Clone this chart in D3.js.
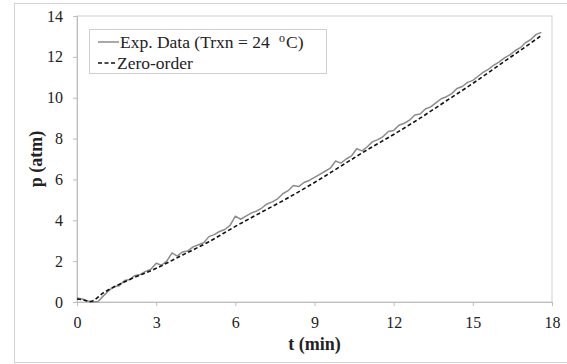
<!DOCTYPE html>
<html>
<head>
<meta charset="utf-8">
<script src="https://cdn.jsdelivr.net/npm/d3@7/dist/d3.min.js"></script>
<style>
  body { margin: 0; background: #fff; }
  text { font-family: "Liberation Serif", "Times New Roman", serif; fill: #222; }
</style>
</head>
<body>
<svg id="chart" width="567" height="364"></svg>
<script>
// experimental pressure trace (t in min, p in atm)
const expT = [0, 0.2, 0.4, 0.6, 0.8, 1.0, 1.2, 1.4, 1.6, 1.8, 2.0, 2.2, 2.4, 2.6, 2.8, 3.0, 3.2, 3.4, 3.6, 3.8,
  4.0, 4.2, 4.4, 4.6, 4.8, 5.0, 5.2, 5.4, 5.6, 5.8, 6.0, 6.2, 6.4, 6.6, 6.8, 7.0, 7.2, 7.4, 7.6, 7.8,
  8.0, 8.2, 8.4, 8.6, 8.8, 9.0, 9.2, 9.4, 9.6, 9.8, 10.0, 10.2, 10.4, 10.6, 10.8, 11.0, 11.2, 11.4, 11.6, 11.8,
  12.0, 12.2, 12.4, 12.6, 12.8, 13.0, 13.2, 13.4, 13.6, 13.8, 14.0, 14.2, 14.4, 14.6, 14.8, 15.0, 15.2, 15.4, 15.6, 15.8,
  16.0, 16.2, 16.4, 16.6, 16.8, 17.0, 17.2, 17.4, 17.6];
const expP = [0.20, 0.15, 0.05, 0.00, 0.02, 0.30, 0.55, 0.75, 0.80, 1.05, 1.10, 1.30, 1.35, 1.50, 1.60, 1.90, 1.80, 2.00, 2.40, 2.25,
  2.45, 2.50, 2.70, 2.80, 2.90, 3.20, 3.30, 3.45, 3.55, 3.75, 4.20, 4.05, 4.20, 4.35, 4.45, 4.60, 4.80, 4.90, 5.05, 5.30,
  5.45, 5.70, 5.65, 5.85, 5.95, 6.10, 6.25, 6.40, 6.55, 6.90, 6.80, 7.00, 7.15, 7.50, 7.40, 7.60, 7.85, 7.95, 8.10, 8.35,
  8.40, 8.65, 8.75, 8.90, 9.15, 9.20, 9.45, 9.55, 9.75, 9.95, 10.05, 10.20, 10.45, 10.55, 10.75, 10.85, 11.05, 11.25, 11.40, 11.60,
  11.75, 11.95, 12.10, 12.30, 12.45, 12.70, 12.85, 13.10, 13.20];

// zero-order model curve
const fitT = [0, 0.25, 0.5, 1, 2, 3, 4, 5, 6, 7, 8, 9, 10, 11, 12, 13, 14, 15, 16, 17, 17.6];
const fitP = [0.15, 0.10, 0.02, 0.45, 1.10, 1.65, 2.30, 2.95, 3.70, 4.40, 5.10, 5.85, 6.65, 7.45, 8.20, 9.00, 9.85, 10.70, 11.60, 12.50, 13.05];

const xTicks = [0, 3, 6, 9, 12, 15, 18];
const yTicks = [0, 2, 4, 6, 8, 10, 12, 14];

const svg = d3.select("#chart");
const mLeft = 77, mRight = 552, mTop = 16, mBottom = 302;

// outer frame
svg.append("rect")
  .attr("x", 14.5).attr("y", 3.5)
  .attr("width", 560).attr("height", 359)
  .attr("fill", "none").attr("stroke", "#d4d4d4");

const x = d3.scaleLinear().domain([0, 18]).range([mLeft, mRight]);
const y = d3.scaleLinear().domain([0, 14]).range([mBottom, mTop]);

// plot area border
svg.append("rect")
  .attr("x", mLeft).attr("y", mTop)
  .attr("width", mRight - mLeft).attr("height", mBottom - mTop)
  .attr("fill", "none").attr("stroke", "#cfcfcf");

const xAxis = svg.append("g")
  .attr("transform", `translate(0,${mBottom})`)
  .call(d3.axisBottom(x).tickValues(xTicks).tickSize(4).tickPadding(11));
const yAxis = svg.append("g")
  .attr("transform", `translate(${mLeft},0)`)
  .call(d3.axisLeft(y).tickValues(yTicks).tickSize(4).tickPadding(10));

[xAxis, yAxis].forEach(a => {
  a.select(".domain").attr("stroke", "#bdbdbd");
  a.selectAll(".tick line").attr("stroke", "#bdbdbd");
  a.selectAll(".tick text")
    .attr("font-size", 16)
    .attr("fill", "#222");
});

const line = d3.line().x(d => x(d[0])).y(d => y(d[1]));

svg.append("path")
  .datum(expT.map((t, i) => [t, expP[i]]))
  .attr("fill", "none")
  .attr("stroke", "#8c8c8c")
  .attr("stroke-width", 1.5)
  .attr("stroke-linejoin", "round")
  .attr("d", line);

svg.append("path")
  .datum(fitT.map((t, i) => [t, fitP[i]]))
  .attr("fill", "none")
  .attr("stroke", "#111")
  .attr("stroke-width", 1.6)
  .attr("stroke-dasharray", "4,2.5")
  .attr("d", line.curve(d3.curveMonotoneX));

// axis titles
svg.append("text")
  .attr("x", (mLeft + mRight) / 2).attr("y", 350)
  .attr("text-anchor", "middle")
  .attr("font-size", 18).attr("font-weight", "bold")
  .text("t (min)");

svg.append("text")
  .attr("transform", `translate(42,${(mTop + mBottom) / 2}) rotate(-90)`)
  .attr("text-anchor", "middle")
  .attr("font-size", 18).attr("font-weight", "bold")
  .text("p (atm)");

// legend
const lg = svg.append("g");
lg.append("rect")
  .attr("x", 89.5).attr("y", 29.5)
  .attr("width", 237).attr("height", 44)
  .attr("fill", "#fff").attr("stroke", "#cfcfcf");

// series 1: solid grey
lg.append("line")
  .attr("x1", 98).attr("x2", 119).attr("y1", 42).attr("y2", 42)
  .attr("stroke", "#8c8c8c").attr("stroke-width", 1.5);
const t1 = lg.append("text").attr("x", 120).attr("y", 48).attr("font-size", 17.5);
t1.append("tspan").text("Exp. Data (Trxn = 24 ");
t1.append("tspan").attr("font-size", 12).attr("dx", 5).attr("dy", -6).text("o");
t1.append("tspan").attr("dx", 1).attr("dy", 6).text("C)");

// series 2: dashed black
lg.append("line")
  .attr("x1", 98).attr("x2", 117).attr("y1", 63).attr("y2", 63)
  .attr("stroke", "#111").attr("stroke-width", 1.5)
  .attr("stroke-dasharray", "4,2.5");
lg.append("text").attr("x", 117).attr("y", 69).attr("font-size", 17.5).text("Zero-order");
</script>
</body>
</html>
